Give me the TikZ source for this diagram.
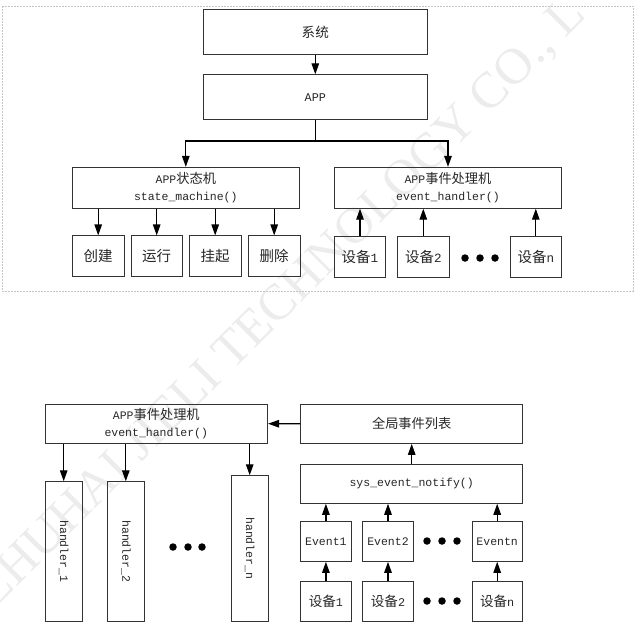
\documentclass[tikz,border=0pt]{standalone}
\usepackage{fontspec}
\setmainfont{Liberation Mono}
\newfontfamily\cjk[Scale=1.15]{Noto Sans CJK SC}
\newfontfamily\markfont{Liberation Serif}
\newcommand{\zh}[1]{{\cjk #1}}
\usetikzlibrary{arrows.meta}

\tikzset{
	box/.style={draw=black!80, line width=0.8pt, inner sep=0pt, align=center,
		text=black!85, font=\fontsize{11.5}{16.5}\selectfont},
	bigbox/.style={box, minimum width=224pt, minimum height=45pt, font=\fontsize{11.8}{16}\selectfont},
	funcbox/.style={box, minimum width=227pt, minimum height=41pt},
	widebox/.style={box, minimum width=222pt, minimum height=39.3pt},
	leaf/.style={box, minimum width=51.6pt, minimum height=41pt, font=\fontsize{12.6}{15}\selectfont},
	evbox/.style={box, minimum width=50.5pt, minimum height=39.6pt},
	handlerbox/.style={box, rotate=-90, minimum height=37.2pt},
	arr/.style={-{Triangle[length=11pt,width=7.5pt]}, line width=1.2pt},
	blob/.style={circle, fill=black, inner sep=0pt, minimum size=7.5pt},
	frame/.style={draw=gray!45, line width=0.6pt, dash pattern=on 2pt off 1pt},
	wm/.style={anchor=base west, rotate=45, text=gray!15, font=\markfont\fontsize{51}{51}\selectfont}
}

\begin{document}
\begin{tikzpicture}[x=1pt,y=-1pt]
	\useasboundingbox (0,0) rectangle (641,640);
	%watermark
	\node[wm] (mark) at (-8,612) {ZHUHAI JIELI TECHNOLOGY CO., L};

	%upper part
	\draw[frame] (2,6) rectangle (633,291);
	\node[bigbox] (sys) at (315.3,31.8) {\zh{系统}};
	\node[bigbox] (app) at (315.3,97.2) {APP};
	\draw[arr] (sys) -- (app);

	\node[funcbox] (sm) at (185.8,187.8) {APP\zh{状态机}\\state\_machine()};
	\node[funcbox] (eh) at (448,187.8) {APP\zh{事件处理机}\\event\_handler()};
	\coordinate (fork) at (315.3,141);
	\draw[arr] (app.south) -- (fork) -| (sm.north);
	\draw[arr] (fork) -| (eh.north);

	%states
	\foreach \x/\t/\n in {98.2/创建/cj, 156.7/运行/yx, 215.2/挂起/gq, 274.2/删除/sc}{
		\node[leaf] (\n) at (\x,256.3) {\zh{\t}};
		\draw[arr] (\n.north |- sm.south) -- (\n.north);
	}

	%devices
	\foreach \x/\t/\n in {360/1/dva, 423.3/2/dvb, 535.8/n/dvn}{
		\node[leaf] (\n) at (\x,257.3) {\zh{设备}\t};
		\draw[arr] (\n.north) -- (\n.north |- eh.south);
	}
	\foreach \x [count=\i] in {465,480,495}
		\node[blob] (dv\i) at (\x,258) {};

	%lower part
	\node[widebox, minimum width=222.7pt] (eh2) at (156.3,423.7) {APP\zh{事件处理机}\\event\_handler()};
	\node[widebox] (glist) at (411.7,423.8) {\zh{全局事件列表}};
	\node[widebox] (notify) at (411.7,483.7) {sys\_event\_notify()};
	\draw[arr] (glist.west) -- (eh2.east);
	\draw[arr] (notify) -- (glist);

	%handlers
	\foreach \x/\y/\h/\t/\n in {63.7/551.3/139.3/1/hda, 125.8/551.3/139.3/2/hdb, 249.7/548.3/145.3/n/hdn}{
		\node[handlerbox, minimum width=\h pt] (\n) at (\x,\y) {handler\_\t};
		\draw[arr] (\n.west |- eh2.south) -- (\n.west);
	}
	\foreach \x [count=\i] in {173,188,202}
		\node[blob] (hd\i) at (\x,547) {};

	%events and devices
	\foreach \x/\t/\n in {325.9/1/a, 388/2/b, 497.2/n/n}{
		\node[evbox] (ev\n) at (\x,541.6) {Event\t};
		\node[evbox, font=\fontsize{11.8}{15}\selectfont] (bd\n) at (\x,601.2) {\zh{设备}\t};
		\draw[arr] (ev\n.north) -- (ev\n.north |- notify.south);
		\draw[arr] (bd\n) -- (ev\n);
	}
	\foreach \x [count=\i] in {427,442,457}{
		\node[blob] (ed\i) at (\x,541) {};
		\node[blob] (bdot\i) at (\x,601) {};
	}
\end{tikzpicture}
\end{document}
